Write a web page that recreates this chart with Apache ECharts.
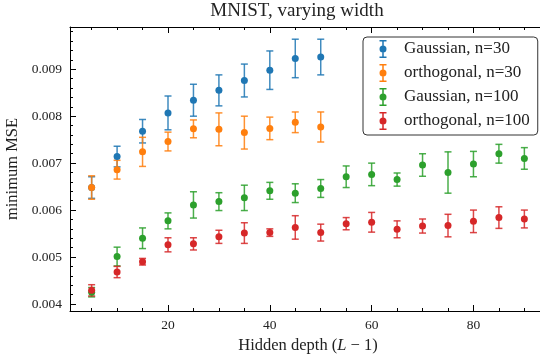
<!DOCTYPE html>
<html>
<head>
<meta charset="utf-8">
<script src="https://cdn.jsdelivr.net/npm/echarts@6/dist/echarts.min.js"></script>
<style>
html,body{margin:0;padding:0;background:#fff;}
#chart{width:540px;height:356px;}
</style>
</head>
<body>
<div id="chart"></div>
<script>
// ---- data ----
const depth = [5,10,15,20,25,30,35,40,45,50,55,60,65,70,75,80,85,90];
const gauss30    = [0.00648,0.00714,0.00768,0.00807,0.00834,0.00855,0.00876,0.00898,0.00923,0.00926];
const gauss30Err = [0.00023,0.00022,0.00025,0.00036,0.00034,0.00033,0.00035,0.00041,0.00041,0.00038];
const orth30     = [0.00648,0.00686,0.00724,0.00746,0.00773,0.00772,0.00765,0.00774,0.00787,0.00777];
const orth30Err  = [0.00025,0.00020,0.00031,0.00020,0.00019,0.00035,0.00035,0.00024,0.00022,0.00032];
const gauss100    = [0.00425,0.00501,0.00540,0.00577,0.00611,0.00618,0.00626,0.00641,0.00636,0.00646,0.00671,0.00676,0.00665,0.00696,0.00680,0.00698,0.00720,0.00710];
const gauss100Err = [0.00010,0.00020,0.00022,0.00017,0.00028,0.00019,0.00027,0.00018,0.00020,0.00019,0.00023,0.00024,0.00014,0.00024,0.00044,0.00027,0.00020,0.00023];
const orth100    = [0.00429,0.00468,0.00490,0.00526,0.00528,0.00543,0.00551,0.00552,0.00563,0.00552,0.00571,0.00574,0.00559,0.00566,0.00567,0.00576,0.00584,0.00581];
const orth100Err = [0.00012,0.00012,0.00007,0.00015,0.00013,0.00014,0.00022,0.00008,0.00025,0.00018,0.00013,0.00021,0.00018,0.00015,0.00024,0.00024,0.00023,0.00019];
const seriesNames = ['Gaussian, n=30','orthogonal, n=30','Gaussian, n=100','orthogonal, n=100'];
const xTicks = [20,40,60,80];
const yTicks = [0.004,0.005,0.006,0.007,0.008,0.009];

// ---- styling ----
const colors = ['#1f77b4','#ff7f0e','#2ca02c','#d62728'];
const FONT = 'Liberation Serif';
const TXT = '#222';
const xMin = 0.75, xMax = 94.25, yMin = 0.00385, yMax = 0.0099;

const xMinor = [];
for (let v = 5; v <= 90; v += 5) if (v % 20 !== 0) xMinor.push(v);
const yMinor = [];
for (let k = 20; k <= 49; k++) if (k % 5 !== 0) yMinor.push(k * 2 / 10000);

const icon = 'path://M0,9L0.01,9L0.01,9.01L0,9.01Z M22.99,9L23,9L23,9.01L22.99,9.01Z ' +
  'M6.25,0L7.75,0L7.75,18L6.25,18Z M3.5,0L10.5,0L10.5,1.5L3.5,1.5Z M3.5,16.5L10.5,16.5L10.5,18L3.5,18Z ' +
  'M3.5,9A3.5,3.5,0,1,1,10.5,9A3.5,3.5,0,1,1,3.5,9Z';

function errSeries(name, ys, errs, color) {
  return {
    type: 'custom', name: name, xAxisIndex: 0, yAxisIndex: 0,
    itemStyle: {color: color},
    data: ys.map((y, i) => [depth[i], y, errs[i]]),
    encode: {x: 0, y: 1},
    renderItem: function (params, api) {
      const x = api.value(0), y = api.value(1), e = api.value(2);
      const lo = api.coord([x, y - e]), hi = api.coord([x, y + e]);
      const w = 3.5;
      const style = {stroke: color, lineWidth: 1.5, opacity: 0.85};
      return {type: 'group', children: [
        {type: 'line', shape: {x1: lo[0], y1: lo[1], x2: hi[0], y2: hi[1]}, style: style},
        {type: 'line', shape: {x1: lo[0] - w, y1: lo[1], x2: lo[0] + w, y2: lo[1]}, style: style},
        {type: 'line', shape: {x1: hi[0] - w, y1: hi[1], x2: hi[0] + w, y2: hi[1]}, style: style}
      ]};
    }
  };
}
function dotSeries(name, ys, color) {
  return {
    type: 'scatter', name: name, xAxisIndex: 0, yAxisIndex: 0,
    symbol: 'circle', symbolSize: 7,
    itemStyle: {color: color, opacity: 1},
    data: ys.map((y, i) => [depth[i], y])
  };
}

const allY = [gauss30, orth30, gauss100, orth100];
const allE = [gauss30Err, orth30Err, gauss100Err, orth100Err];
const series = [];
for (let s = 0; s < 4; s++) {
  series.push(errSeries(seriesNames[s], allY[s], allE[s], colors[s]));
  series.push(dotSeries(seriesNames[s], allY[s], colors[s]));
}

const axisLineStyle = {color: '#000', width: 1};
function xAxisDef(pos, values, len, showLine, labels) {
  return {
    type: 'value', position: pos, min: xMin, max: xMax,
    axisLine: {show: showLine, onZero: false, lineStyle: axisLineStyle},
    axisTick: {show: true, inside: true, length: len, customValues: values, lineStyle: {color: '#000', width: 1}},
    axisLabel: labels ? {show: true, customValues: xTicks, margin: 7, fontFamily: FONT, fontSize: 13.5, color: TXT} : {show: false},
    splitLine: {show: false}
  };
}
function yAxisDef(values, len, showLine, labels) {
  return {
    type: 'value', position: 'left', min: yMin, max: yMax,
    axisLine: {show: showLine, onZero: false, lineStyle: axisLineStyle},
    axisTick: {show: true, inside: true, length: len, customValues: values, lineStyle: {color: '#000', width: 1}},
    axisLabel: labels ? {show: true, customValues: yTicks, margin: 8, fontFamily: FONT, fontSize: 13.5, color: TXT,
      formatter: v => v.toFixed(3)} : {show: false},
    splitLine: {show: false}
  };
}

const xMain = xAxisDef('bottom', xTicks, 6, true, true);
xMain.name = '{n|Hidden depth (}{i|L}{n| \u2212 1)}';
xMain.nameLocation = 'middle';
xMain.nameGap = 26;
xMain.nameTextStyle = {rich: {
  n: {fontFamily: FONT, fontSize: 16.5, color: TXT},
  i: {fontFamily: FONT, fontSize: 16.5, color: TXT, fontStyle: 'italic'}
}};
const yMain = yAxisDef(yTicks, 6, true, true);
yMain.name = 'minimum MSE';
yMain.nameLocation = 'middle';
yMain.nameGap = 47;
yMain.nameTextStyle = {fontFamily: FONT, fontSize: 16.5, color: TXT};

const option = {
  animation: false,
  backgroundColor: '#fff',
  title: {
    text: 'MNIST, varying width', left: 297, top: 2, textAlign: 'center', padding: 0,
    textStyle: {fontFamily: FONT, fontSize: 19, fontWeight: 'normal', color: TXT}
  },
  grid: {left: 70, top: 27, right: -6, bottom: 45, containLabel: false, outerBoundsMode: 'none'},
  xAxis: [
    xMain,
    xAxisDef('bottom', xMinor, 3, false, false),
    xAxisDef('top', xTicks, 6, true, false),
    xAxisDef('top', xMinor, 3, false, false)
  ],
  yAxis: [
    yMain,
    yAxisDef(yMinor, 3, false, false)
  ],
  legend: {
    orient: 'vertical', left: 363, top: 37,
    padding: [3, 8, 5, 13], itemWidth: 23, itemHeight: 18, itemGap: 6,
    borderColor: '#333', borderWidth: 1, borderRadius: 4, backgroundColor: '#fff',
    selectedMode: false,
    textStyle: {fontFamily: FONT, fontSize: 17, color: TXT},
    data: seriesNames.map((n, i) => ({name: n, icon: icon, itemStyle: {color: colors[i], opacity: 1}}))
  },
  series: series
};

const chart = echarts.init(document.getElementById('chart'), null, {renderer: 'canvas'});
chart.setOption(option);
</script>
</body>
</html>
